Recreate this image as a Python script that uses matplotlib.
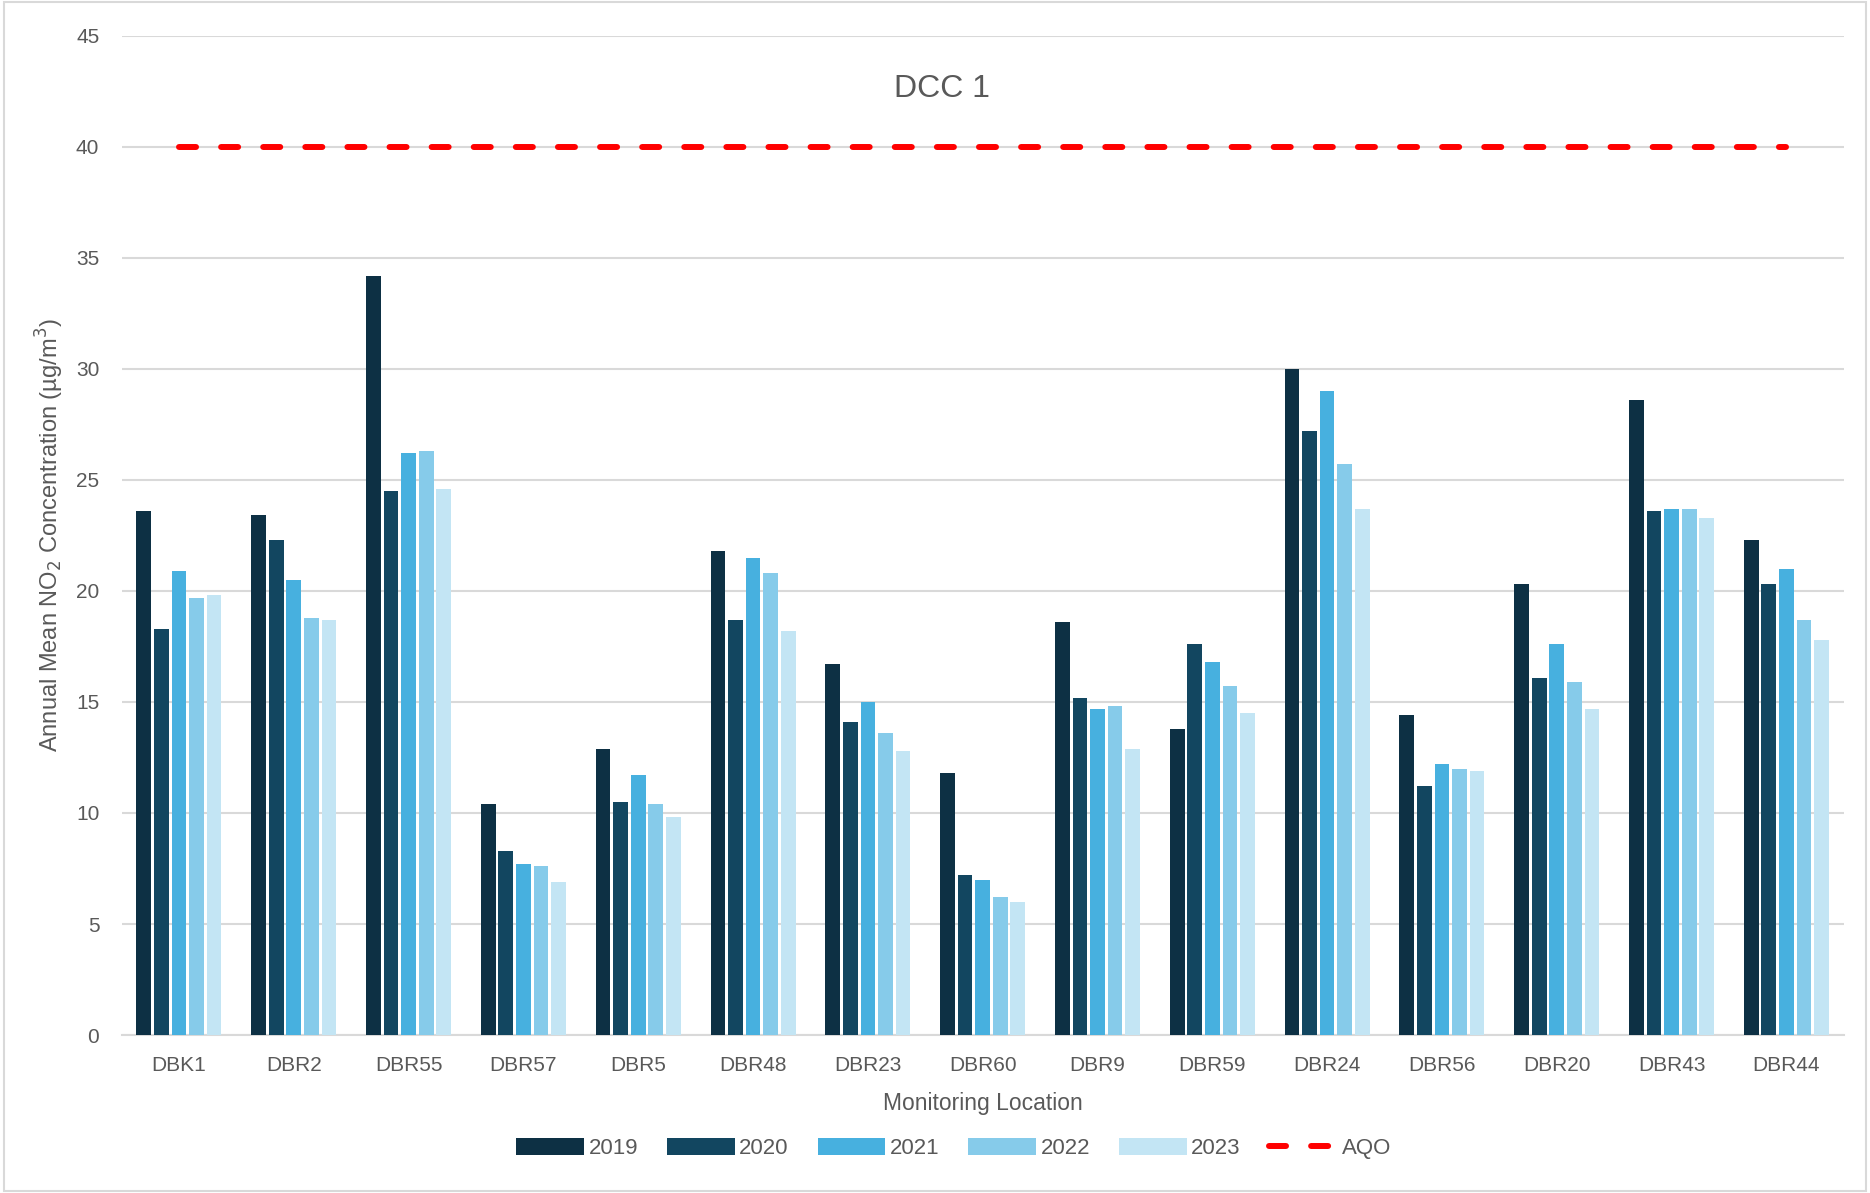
import matplotlib.pyplot as plt
import matplotlib.patches as mpatches
import numpy as np

plt.rcParams['font.family'] = ['Liberation Sans', 'DejaVu Sans']

locations = ['DBK1', 'DBR2', 'DBR55', 'DBR57', 'DBR5', 'DBR48', 'DBR23', 'DBR60',
             'DBR9', 'DBR59', 'DBR24', 'DBR56', 'DBR20', 'DBR43', 'DBR44']
years = ['2019', '2020', '2021', '2022', '2023']

no2_2019 = [23.6, 23.4, 34.2, 10.4, 12.9, 21.8, 16.7, 11.8, 18.6, 13.8, 30.0, 14.4, 20.3, 28.6, 22.3]
no2_2020 = [18.3, 22.3, 24.5, 8.3, 10.5, 18.7, 14.1, 7.2, 15.2, 17.6, 27.2, 11.2, 16.1, 23.6, 20.3]
no2_2021 = [20.9, 20.5, 26.2, 7.7, 11.7, 21.5, 15.0, 7.0, 14.7, 16.8, 29.0, 12.2, 17.6, 23.7, 21.0]
no2_2022 = [19.7, 18.8, 26.3, 7.6, 10.4, 20.8, 13.6, 6.2, 14.8, 15.7, 25.7, 12.0, 15.9, 23.7, 18.7]
no2_2023 = [19.8, 18.7, 24.6, 6.9, 9.8, 18.2, 12.8, 6.0, 12.9, 14.5, 23.7, 11.9, 14.7, 23.3, 17.8]
aqo = [40] * len(locations)

series = [no2_2019, no2_2020, no2_2021, no2_2022, no2_2023]
colors = ['#0D3044', '#124660', '#47B0DF', '#86CBEA', '#C3E5F4']
text_col = '#595959'
grid_col = '#D9D9D9'

fig = plt.figure(figsize=(18.70, 11.93), dpi=100)
ax = fig.add_axes([0.065, 0.1324, 0.921, 0.8376])

x = np.arange(len(locations))
pitch = 0.153
handles = []
for i, (vals, c, yr) in enumerate(zip(series, colors, years)):
    b = ax.bar(x + (i - 2) * pitch, vals, width=0.128, color=c, label=yr, zorder=3)
    handles.append(b)

# AQO limit drawn as a dashed line through the category centres
line, = ax.plot(x, aqo, color='#FF0000', lw=4.3, dashes=(2.85, 4.2), dash_capstyle='round',
                label='AQO', zorder=4)
handles.append(line)

ax.set_xlim(-0.5, len(locations) - 0.5)
ax.set_ylim(0, 45)
ax.set_yticks(np.arange(0, 46, 5))
ax.set_xticks(x)
ax.set_xticklabels(locations)
ax.tick_params(axis='both', length=0, labelsize=15, colors=text_col)
ax.tick_params(axis='x', pad=15)
ax.tick_params(axis='y', pad=16)
ax.grid(axis='y', color=grid_col, lw=1.5, zorder=0)
for s in ['top', 'right', 'left']:
    ax.spines[s].set_visible(False)
ax.spines['bottom'].set_color(grid_col)
ax.spines['bottom'].set_linewidth(1.5)

fig.text(0.504, 0.925, 'DCC 1', ha='center', va='center', fontsize=23, color=text_col)
ax.set_xlabel('Monitoring Location', fontsize=16.5, color=text_col, labelpad=12)
ax.set_ylabel('Annual Mean NO$_2$ Concentration (µg/m$^3$)', fontsize=17, color=text_col)
ax.yaxis.set_label_coords(-0.032, 0.5)

leg = fig.legend(handles=handles, labels=years + ['AQO'], loc='center',
                 bbox_to_anchor=(0.51, 0.037), ncol=6, frameon=False, fontsize=16,
                 handlelength=3.05, handleheight=0.75, columnspacing=1.3, handletextpad=0.2)
for t in leg.get_texts():
    t.set_color(text_col)

fig.patches.append(mpatches.Rectangle((0.002, 0.002), 0.996, 0.996, transform=fig.transFigure,
                                      fill=False, edgecolor=grid_col, lw=1.5))

fig.savefig('out.png', dpi=100)
